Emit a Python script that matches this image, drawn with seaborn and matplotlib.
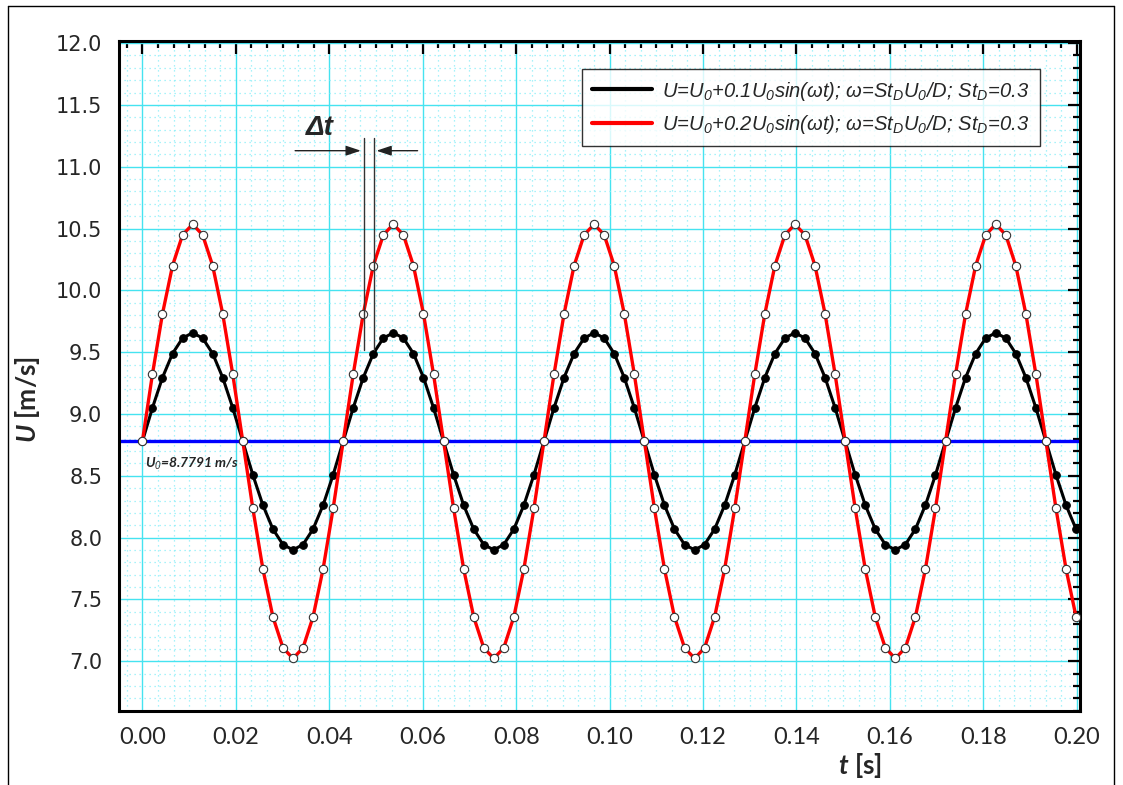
import matplotlib

matplotlib.use("Agg")
import matplotlib.pyplot as plt
import pandas as pd
import seaborn as sns
from matplotlib.lines import Line2D
from matplotlib.ticker import AutoMinorLocator, FormatStrFormatter, MultipleLocator

# sample times [s]
t = [
    0.0, 0.00215, 0.00430, 0.00645, 0.00860, 0.01075, 0.01289, 0.01504, 0.01719, 0.01934,
    0.02149, 0.02364, 0.02579, 0.02794, 0.03009, 0.03224, 0.03438, 0.03653, 0.03868, 0.04083,
    0.04298, 0.04513, 0.04728, 0.04943, 0.05158, 0.05373, 0.05587, 0.05802, 0.06017, 0.06232,
    0.06447, 0.06662, 0.06877, 0.07092, 0.07307, 0.07522, 0.07736, 0.07951, 0.08166, 0.08381,
    0.08596, 0.08811, 0.09026, 0.09241, 0.09456, 0.09671, 0.09885, 0.10100, 0.10315, 0.10530,
    0.10745, 0.10960, 0.11175, 0.11390, 0.11605, 0.11820, 0.12034, 0.12249, 0.12464, 0.12679,
    0.12894, 0.13109, 0.13324, 0.13539, 0.13754, 0.13969, 0.14183, 0.14398, 0.14613, 0.14828,
    0.15043, 0.15258, 0.15473, 0.15688, 0.15903, 0.16118, 0.16332, 0.16547, 0.16762, 0.16977,
    0.17192, 0.17407, 0.17622, 0.17837, 0.18052, 0.18267, 0.18481, 0.18696, 0.18911, 0.19126,
    0.19341, 0.19556, 0.19771, 0.19986,
]

# U = U0 + 0.1 U0 sin(wt)
u_01 = [
    8.779, 9.050, 9.295, 9.489, 9.614, 9.657, 9.614, 9.489, 9.295, 9.050,
    8.779, 8.508, 8.263, 8.069, 7.944, 7.901, 7.944, 8.069, 8.263, 8.508,
    8.779, 9.050, 9.295, 9.489, 9.614, 9.657, 9.614, 9.489, 9.295, 9.050,
    8.779, 8.508, 8.263, 8.069, 7.944, 7.901, 7.944, 8.069, 8.263, 8.508,
    8.779, 9.050, 9.295, 9.489, 9.614, 9.657, 9.614, 9.489, 9.295, 9.050,
    8.779, 8.508, 8.263, 8.069, 7.944, 7.901, 7.944, 8.069, 8.263, 8.508,
    8.779, 9.050, 9.295, 9.489, 9.614, 9.657, 9.614, 9.489, 9.295, 9.050,
    8.779, 8.508, 8.263, 8.069, 7.944, 7.901, 7.944, 8.069, 8.263, 8.508,
    8.779, 9.050, 9.295, 9.489, 9.614, 9.657, 9.614, 9.489, 9.295, 9.050,
    8.779, 8.508, 8.263, 8.069,
]

# U = U0 + 0.2 U0 sin(wt)
u_02 = [
    8.779, 9.322, 9.811, 10.200, 10.449, 10.535, 10.449, 10.200, 9.811, 9.322,
    8.779, 8.236, 7.747, 7.359, 7.109, 7.023, 7.109, 7.359, 7.747, 8.236,
    8.779, 9.322, 9.811, 10.200, 10.449, 10.535, 10.449, 10.200, 9.811, 9.322,
    8.779, 8.236, 7.747, 7.359, 7.109, 7.023, 7.109, 7.359, 7.747, 8.236,
    8.779, 9.322, 9.811, 10.200, 10.449, 10.535, 10.449, 10.200, 9.811, 9.322,
    8.779, 8.236, 7.747, 7.359, 7.109, 7.023, 7.109, 7.359, 7.747, 8.236,
    8.779, 9.322, 9.811, 10.200, 10.449, 10.535, 10.449, 10.200, 9.811, 9.322,
    8.779, 8.236, 7.747, 7.359, 7.109, 7.023, 7.109, 7.359, 7.747, 8.236,
    8.779, 9.322, 9.811, 10.200, 10.449, 10.535, 10.449, 10.200, 9.811, 9.322,
    8.779, 8.236, 7.747, 7.359,
]

U0 = 8.7791
dt_lines_x = [0.04736, 0.04950]
dt_lines_y = [9.52, 11.23]

sns.set_style("white")
plt.rcParams["font.family"] = ["DejaVu Sans"]
plt.rcParams["mathtext.fontset"] = "custom"
plt.rcParams["mathtext.rm"] = "Liberation Sans:italic"
plt.rcParams["mathtext.it"] = "Lato:italic:bold"

df = pd.DataFrame({"t": t, "u01": u_01, "u02": u_02})

fig = plt.figure(figsize=(11.23, 7.85), dpi=100)
ax = fig.add_axes([0.106, 0.0946, 0.8557, 0.8536])

ax.axhline(U0, color="#0000FF", linewidth=2.4, zorder=2)

sns.lineplot(
    data=df, x="t", y="u01", ax=ax, color="black", linewidth=2.2,
    marker="o", markersize=5.5, markerfacecolor="black", markeredgecolor="black",
    zorder=3,
)
sns.lineplot(
    data=df, x="t", y="u02", ax=ax, color="#FF0000", linewidth=2.4,
    marker="o", markersize=6, markerfacecolor="white", markeredgecolor="#333333",
    markeredgewidth=0.8, zorder=4,
)

ax.set_xlim(-0.005, 0.2007)
ax.set_ylim(6.6, 12.02)
ax.xaxis.set_major_locator(MultipleLocator(0.02))
ax.xaxis.set_minor_locator(AutoMinorLocator(6))
ax.yaxis.set_major_locator(MultipleLocator(0.5))
ax.yaxis.set_minor_locator(AutoMinorLocator(5))
ax.xaxis.set_major_formatter(FormatStrFormatter("%.2f"))
ax.yaxis.set_major_formatter(FormatStrFormatter("%.1f"))

ax.grid(True, which="major", color="#45E3F0", linewidth=1.0, zorder=0)
ax.grid(True, which="minor", color="#8CEEF8", linewidth=0.9, linestyle=(0, (1, 3)), zorder=0)
ax.set_axisbelow(True)

for side in ["top", "bottom", "left", "right"]:
    ax.spines[side].set_linewidth(2.2)
    ax.spines[side].set_color("black")
ax.tick_params(which="both", direction="in", top=True, right=True, color="black")
ax.tick_params(which="major", length=9, width=1.6)
ax.tick_params(which="minor", length=5, width=1.6)
ax.tick_params(axis="y", which="major", pad=12, labelsize=15)
ax.tick_params(axis="x", which="major", pad=12, labelsize=17)
for lab in ax.get_xticklabels():
    lab.set_family(["Lato", "DejaVu Sans"])

ax.set_ylabel(r"$\mathit{U}$ [m/s]", fontsize=19, fontweight="bold",
              family=["Lato", "DejaVu Sans"], va="center")
ax.yaxis.set_label_coords(-0.095, 0.464)
ax.set_xlabel(r"$\mathit{t}$ [s]", fontsize=19, fontweight="bold",
              family=["Lato", "DejaVu Sans"], va="center")
ax.xaxis.set_label_coords(0.771, -0.081)

ax.text(0.0006, 8.60, r"$\mathit{U_0}$=8.7791 m/s", fontsize=10, fontweight="bold",
        fontstyle="italic", family=["Lato", "DejaVu Sans"], va="center", ha="left", zorder=6)

# delta t marker
for xv in dt_lines_x:
    ax.plot([xv, xv], dt_lines_y, color="#333333", linewidth=1.0, zorder=5)
ax.annotate("", xy=(dt_lines_x[0], 11.13), xytext=(0.0321, 11.13),
            arrowprops=dict(arrowstyle="-|>,head_length=0.9,head_width=0.3", color="#222222", lw=1.0))
ax.annotate("", xy=(dt_lines_x[1], 11.13), xytext=(0.0595, 11.13),
            arrowprops=dict(arrowstyle="-|>,head_length=0.9,head_width=0.3", color="#222222", lw=1.0))
ax.text(0.0379, 11.31, "Δt", fontsize=20, fontstyle="italic", fontweight="bold",
        family=["Liberation Sans", "DejaVu Sans"], ha="center", va="center")

label1 = r"U=U$_\mathrm{0}$+0.1U$_\mathrm{0}$sin(ωt); ω=St$_\mathrm{D}$U$_\mathrm{0}$/D; St$_\mathrm{D}$=0.3"
label2 = r"U=U$_\mathrm{0}$+0.2U$_\mathrm{0}$sin(ωt); ω=St$_\mathrm{D}$U$_\mathrm{0}$/D; St$_\mathrm{D}$=0.3"
handles = [
    Line2D([], [], color="black", linewidth=3),
    Line2D([], [], color="#FF0000", linewidth=3),
]
leg = ax.legend(
    handles, [label1, label2], loc="upper right", bbox_to_anchor=(0.958, 0.957),
    borderaxespad=0, frameon=True, fancybox=False, handlelength=3.0,
    prop={"family": ["Liberation Sans", "DejaVu Sans"], "style": "italic", "size": 14.5},
    labelspacing=0.5, borderpad=0.5, handletextpad=0.5,
)
leg.get_frame().set_edgecolor("black")
leg.get_frame().set_linewidth(1.0)
leg.set_zorder(7)

# outer figure frame
for xs, ys in [([0.007, 0.007], [0.0, 0.9925]), ([0.007, 0.992], [0.9925, 0.9925]), ([0.992, 0.992], [0.0, 0.9925])]:
    fig.add_artist(Line2D(xs, ys, color="black", linewidth=1.0, transform=fig.transFigure))

fig.savefig("out.png", dpi=100)
